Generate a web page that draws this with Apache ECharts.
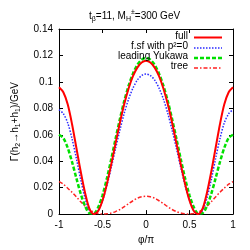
<!DOCTYPE html>
<html><head><meta charset="utf-8">
<script src="https://cdn.jsdelivr.net/npm/echarts@6/dist/echarts.min.js"></script>
<style>html,body{margin:0;padding:0;background:#fff}#c{width:250px;height:250px}</style>
</head><body><div id="c"></div>
<script>
const phi = [-1,-0.95,-0.9,-0.85,-0.8,-0.75,-0.7,-0.65,-0.6,-0.55,-0.5,-0.45,-0.4,-0.35,-0.3,-0.25,-0.2,-0.15,-0.1,-0.05,0,
  0.05,0.1,0.15,0.2,0.25,0.3,0.35,0.4,0.45,0.5,0.55,0.6,0.65,0.7,0.75,0.8,0.85,0.9,0.95,1];
const fullVals = [0.0960,0.0922,0.0830,0.0680,0.0500,0.0320,0.0160,0.0041,0.0001,0.0023,0.0103,0.0226,0.0375,0.0535,0.0691,0.0832,0.0950,0.1043,0.1108,0.1147,0.1160,
  0.1147,0.1108,0.1043,0.0950,0.0832,0.0691,0.0535,0.0375,0.0226,0.0103,0.0023,0.0001,0.0041,0.0160,0.0320,0.0500,0.0680,0.0830,0.0922,0.0960];
const fsfVals = [0.0790,0.0759,0.0690,0.0570,0.0420,0.0260,0.0120,0.0028,0.0000,0.0027,0.0102,0.0215,0.0351,0.0496,0.0636,0.0763,0.0870,0.0953,0.1013,0.1048,0.1060,
  0.1048,0.1013,0.0953,0.0870,0.0763,0.0636,0.0496,0.0351,0.0215,0.0102,0.0027,0.0000,0.0028,0.0120,0.0260,0.0420,0.0570,0.0690,0.0759,0.0790];
const yukawaVals = [0.0600,0.0575,0.0501,0.0394,0.0271,0.0153,0.0061,0.0008,0.0005,0.0051,0.0142,0.0268,0.0414,0.0569,0.0719,0.0855,0.0971,0.1062,0.1128,0.1168,0.1181,
  0.1168,0.1128,0.1062,0.0971,0.0855,0.0719,0.0569,0.0414,0.0268,0.0142,0.0051,0.0005,0.0008,0.0061,0.0153,0.0271,0.0394,0.0501,0.0575,0.0600];
const treeVals = [0.0245,0.0226,0.0196,0.0165,0.0130,0.0093,0.0060,0.0034,0.0015,0.0004,0.0000,0.0002,0.0008,0.0019,0.0035,0.0056,0.0079,0.0101,0.0120,0.0131,0.0135,
  0.0131,0.0120,0.0101,0.0079,0.0056,0.0035,0.0019,0.0008,0.0002,0.0000,0.0004,0.0015,0.0034,0.0060,0.0093,0.0130,0.0165,0.0196,0.0226,0.0245];
const seriesNames = ['full','f.sf with p\u00b2=0','leading Yukawa','tree'];

const FONT = 'Liberation Sans';
const pair = v => phi.map((x,i)=>[x,v[i]]);
const styles = [
  {color:'#ff0000',width:2,type:'solid'},
  {color:'#2a2aff',width:1.5,type:[1.5,1.5]},
  {color:'#00e000',width:2.5,type:[4,2]},
  {color:'#ff2222',width:1.5,type:[4,2,1.5,2]}
];
const chart = echarts.init(document.getElementById('c'), null, {renderer:'canvas'});
const axisCommon = {
  axisLine:{show:true,onZero:false,lineStyle:{color:'#000',width:1}},
  axisTick:{show:true,inside:true,length:4,lineStyle:{color:'#000'}},
  splitLine:{show:false}
};
const legendRows = [37.5,48,58,68];
const legendGraphics = [];
seriesNames.forEach((n,i)=>{
  legendGraphics.push({type:'text',right:62,top:legendRows[i]-6.5,z:10,
    style:{text:n,fontFamily:FONT,fontSize:10,fill:'#000',textAlign:'right'}});
  legendGraphics.push({type:'line',z:10,shape:{x1:194,y1:legendRows[i],x2:222,y2:legendRows[i]},
    style:{stroke:styles[i].color,lineWidth:styles[i].width,lineDash:styles[i].type==='solid'?null:styles[i].type}});
});
chart.setOption({
  animation:false,
  textStyle:{fontFamily:FONT},
  title:{
    text:'t{s|\u03b2}=11, M{s|H}{p|\u00b1}=300 GeV',
    left:84, top:4,
    textStyle:{fontFamily:FONT,fontSize:10,fontWeight:'normal',color:'#000',lineHeight:14,
      rich:{s:{fontSize:7,verticalAlign:'bottom',lineHeight:14,fontFamily:FONT},
            p:{fontSize:7,verticalAlign:'top',lineHeight:14,fontFamily:FONT}}}
  },
  grid:{left:56,right:17,top:29,bottom:29},
  graphic:legendGraphics,
  xAxis:[
    Object.assign({type:'value',min:-1,max:1,interval:0.5,position:'bottom',
      name:'\u03c6/\u03c0',nameLocation:'middle',nameGap:19,
      nameTextStyle:{fontFamily:FONT,fontSize:10,color:'#000'},
      axisLabel:{fontFamily:FONT,fontSize:10,color:'#000',margin:6}},axisCommon),
    Object.assign({type:'value',min:-1,max:1,interval:0.5,position:'top',axisLabel:{show:false}},axisCommon)
  ],
  yAxis:[
    Object.assign({type:'value',min:0,max:0.14,interval:0.02,position:'left',
      name:'\u0393(h{s|2}\u2192h{s|1}+h{s|1})/GeV',nameLocation:'middle',nameGap:37,nameRotate:90,
      nameTextStyle:{fontFamily:FONT,fontSize:10,color:'#000',lineHeight:14,
        rich:{s:{fontSize:7,verticalAlign:'bottom',lineHeight:14,fontFamily:FONT}}},
      axisLabel:{fontFamily:FONT,fontSize:10,color:'#000',margin:6}},axisCommon),
    Object.assign({type:'value',min:0,max:0.14,interval:0.02,position:'right',axisLabel:{show:false}},axisCommon)
  ],
  series:[fullVals,fsfVals,yukawaVals,treeVals].map((v,i)=>({
    name:seriesNames[i],type:'line',data:pair(v),smooth:0.3,showSymbol:false,symbol:'none',z:4-i,
    lineStyle:{color:styles[i].color,width:styles[i].width,type:styles[i].type},itemStyle:{color:styles[i].color}
  }))
});
</script></body></html>
